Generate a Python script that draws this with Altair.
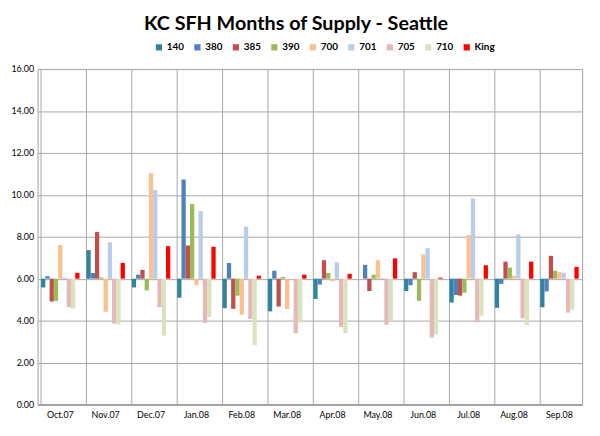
import altair as alt
import pandas as pd

months = ["Oct.07", "Nov.07", "Dec.07", "Jan.08", "Feb.08", "Mar.08",
          "Apr.08", "May.08", "Jun.08", "Jul.08", "Aug.08", "Sep.08"]
series = ["140", "380", "385", "390", "700", "701", "705", "710", "King"]
colors = ["#31849B", "#4F81BD", "#C0504D", "#9BBB59", "#FAC090",
          "#B9CDE5", "#E6B9B8", "#D7E4BD", "#FF0000"]

s140 = [5.58, 7.36, 5.58, 5.09, 4.59, 4.44, 5.03, 6.00, 5.41, 4.86, 4.61, 4.64]
s380 = [6.12, 6.27, 6.19, 10.73, 6.75, 6.38, 5.72, 6.66, 5.69, 5.22, 5.75, 5.39]
s385 = [4.91, 8.23, 6.42, 7.58, 4.56, 4.67, 6.88, 5.41, 6.31, 5.19, 6.81, 7.09]
s390 = [4.94, 6.06, 5.44, 9.56, 5.19, 6.08, 6.27, 6.19, 4.94, 5.33, 6.53, 6.38]
s700 = [7.61, 4.42, 11.03, 5.69, 4.28, 4.55, 5.88, 6.88, 7.16, 8.08, 6.14, 6.31]
s701 = [6.06, 7.73, 10.23, 9.22, 8.48, 6.00, 6.78, 6.03, 7.45, 9.83, 8.11, 6.28]
s705 = [4.64, 3.86, 4.64, 3.89, 4.08, 3.39, 3.70, 3.81, 3.19, 3.92, 4.11, 4.38]
s710 = [4.58, 3.81, 3.28, 4.17, 2.83, 3.91, 3.40, 4.00, 3.34, 4.23, 3.78, 4.52]
king = [6.28, 6.75, 7.55, 7.52, 6.14, 6.19, 6.23, 6.97, 6.05, 6.64, 6.81, 6.56]

values = [s140, s380, s385, s390, s700, s701, s705, s710, king]
rows = []
for name, vals in zip(series, values):
    for m, v in zip(months, vals):
        rows.append({"month": m, "series": name, "value": v})
df = pd.DataFrame(rows)

FONT = "Lato"

chart = alt.Chart(df).mark_bar(stroke=None).encode(
    x=alt.X("month:N", sort=months, title=None,
            scale=alt.Scale(paddingInner=0.152, paddingOuter=0.076),
            axis=alt.Axis(bandPosition=0, grid=True, gridColor="#A8A8A8",
                          ticks=False, labelAngle=0, labelFontSize=9,
                          labelPadding=6, domainColor="#9A9A9A", domainWidth=1.5,
                          labelFont=FONT, labelColor="#000000")),
    xOffset=alt.XOffset("series:N", sort=series,
                        scale=alt.Scale(paddingInner=0, paddingOuter=0)),
    y=alt.Y("value:Q", title=None,
            scale=alt.Scale(domain=[0, 16], nice=False, zero=False),
            axis=alt.Axis(values=[0, 2, 4, 6, 8, 10, 12, 14, 16], format=".2f",
                          grid=True, gridColor="#A8A8A8", ticks=False,
                          domain=False, labelFontSize=9, labelPadding=4,
                          labelFont=FONT, labelColor="#000000")),
    y2=alt.datum(6),
    color=alt.Color("series:N", sort=series,
                    scale=alt.Scale(domain=series, range=colors),
                    legend=alt.Legend(title=None, orient="none", direction="horizontal",
                                      legendX=118, legendY=-27, columns=9,
                                      symbolType="square", symbolSize=40,
                                      symbolStrokeWidth=0, labelFontSize=10,
                                      labelFontWeight="bold", labelFont=FONT,
                                      columnPadding=8, labelOffset=3)),
).properties(
    width=552,
    height=340,
    title=alt.TitleParams("KC SFH Months of Supply - Seattle", fontSize=20,
                          font=FONT, fontWeight="bold", anchor="middle",
                          dx=-14, offset=9, color="#000000"),
    autosize=alt.AutoSizeParams(type="none"),
    padding={"left": 30, "top": 59, "right": 10, "bottom": 20},
).configure_view(stroke="#A0A0A0", strokeWidth=1)

chart.save("out.html", embed_options={"renderer": "svg", "actions": False})
